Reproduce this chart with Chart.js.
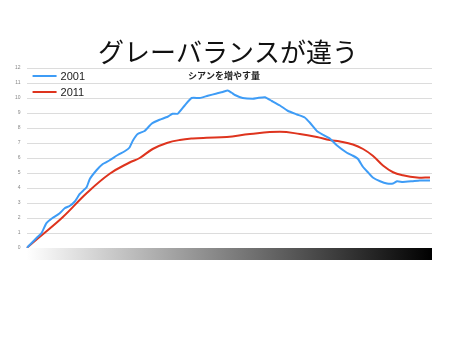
<!DOCTYPE html>
<html>
<head>
<meta charset="utf-8">
<script src="https://cdn.jsdelivr.net/npm/chart.js@4.4.1/dist/chart.umd.min.js"></script>
<style>
  html, body { margin: 0; padding: 0; background: #fff; }
  #wrap { width: 461px; height: 346px; }
</style>
</head>
<body>
<div id="wrap"><canvas id="grayChart" width="461" height="346"></canvas></div>
<script>
// シアン量 (%) に対する値
var cyan2001 = [0, 1.5, 2.7, 3.7, 4.9, 6.4, 8.1, 9.4, 10.6, 11.9, 13.1, 14.8, 15.6, 17.3, 18.8, 20.5, 22.5, 24.2, 25.4, 26.2,
                27.4, 29.1, 30.9, 32.8, 34.8, 36.0, 37.3, 39.0, 40.7, 42.7, 44.7, 46.9, 48.4, 49.6, 50.6, 51.4, 53.3, 55.8,
                57.0, 58.8, 60.5, 62.5, 64.4, 66.7, 68.6, 69.9, 71.6, 73.1, 74.8, 76.5, 79.0, 80.5, 81.7, 83.0, 84.2, 85.4,
                87.2, 88.9, 90.4, 91.4, 92.8, 95.1, 97.0, 99.5];
var values2001 = [0, 0.4, 0.73, 1.0, 1.66, 2.0, 2.3, 2.65, 2.8, 3.1, 3.6, 4.05, 4.6, 5.2, 5.6, 5.85, 6.2, 6.45, 6.7, 7.15,
                  7.6, 7.8, 8.3, 8.55, 8.75, 8.95, 8.95, 9.5, 10.0, 10.0, 10.15, 10.3, 10.4, 10.5, 10.35, 10.2, 10.0, 9.95,
                  10.0, 10.05, 9.8, 9.5, 9.15, 8.9, 8.7, 8.35, 7.8, 7.55, 7.3, 6.85, 6.35, 6.15, 5.95, 5.4, 5.05, 4.7,
                  4.45, 4.3, 4.3, 4.45, 4.4, 4.45, 4.5, 4.5];

var cyan2011 = [0, 3.2, 8.9, 14.8, 20.5, 25.4, 27.9, 31.1, 34.6, 37.8, 41.0, 44.4, 49.4, 55.1, 62.5, 67.4, 71.6,
                74.8, 77.3, 80.5, 83.0, 85.4, 87.9, 90.4, 92.8, 96.3, 99.5];
var values2011 = [0, 0.73, 2.05, 3.65, 4.95, 5.7, 6.0, 6.6, 7.0, 7.2, 7.3, 7.35, 7.4, 7.6, 7.75, 7.6, 7.4,
                  7.2, 7.1, 6.9, 6.6, 6.15, 5.5, 5.05, 4.85, 4.7, 4.7];

var yTicks = [0, 1, 2, 3, 4, 5, 6, 7, 8, 9, 10, 11, 12];

function toPoints(xs, ys) {
    return xs.map(function(x, i){ return { x: x, y: ys[i] }; });
}

// 横軸の下に白→黒のグラデーション帯
var grayBar = {
    id: 'grayBar',
    afterDraw: function(chart){
        var a = chart.chartArea, c = chart.ctx;
        var g = c.createLinearGradient(a.left, 0, a.right, 0);
        g.addColorStop(0, '#ffffff');
        g.addColorStop(1, '#000000');
        c.save();
        c.fillStyle = g;
        c.fillRect(a.left, a.bottom, a.right - a.left, 12);
        c.restore();
    }
};

// 見出し・凡例・サブタイトル
var insideText = {
    id: 'insideText',
    afterDraw: function(chart){
        var a = chart.chartArea, c = chart.ctx;
        c.save();
        c.fillStyle = '#111';
        c.font = '26px "Noto Sans CJK JP", sans-serif';
        c.textAlign = 'center';
        c.textBaseline = 'middle';
        c.fillText('グレーバランスが違う', 228, 52);

        chart.data.datasets.forEach(function(ds, i){
            var y = a.top + 8 + i * 16;
            c.strokeStyle = ds.borderColor;
            c.lineWidth = 2;
            c.beginPath();
            c.moveTo(a.left + 6, y);
            c.lineTo(a.left + 30, y);
            c.stroke();
            c.fillStyle = '#222';
            c.font = '11px "Liberation Sans", Arial, sans-serif';
            c.textBaseline = 'middle';
            c.textAlign = 'left';
            c.fillText(ds.label, a.left + 34, y + 0.5);
        });
        c.fillStyle = '#222';
        c.font = 'bold 9px "Noto Sans CJK JP", sans-serif';
        c.textAlign = 'center';
        c.textBaseline = 'middle';
        c.fillText('シアンを増やす量', 224, a.top + 8);
        c.restore();
    }
};

var ctx = document.getElementById('grayChart').getContext('2d');
var chart = new Chart(ctx, {
    type: 'line',
    data: {
        datasets: [
            { label: '2001', data: toPoints(cyan2001, values2001), borderColor: 'rgb(62,156,246)', borderWidth: 2, pointRadius: 0, tension: 0.15 },
            { label: '2011', data: toPoints(cyan2011, values2011), borderColor: 'rgb(222,52,30)', borderWidth: 2, pointRadius: 0, tension: 0.4 }
        ]
    },
    options: {
        responsive: false,
        animation: false,
        layout: { padding: { left: 9, right: 29, top: 68, bottom: 98 } },
        plugins: {
            legend: { display: false },
            tooltip: { enabled: false },
            title: { display: false }
        },
        scales: {
            x: { type: 'linear', min: 0, max: 100, display: false },
            y: {
                min: 0, max: 12,
                afterBuildTicks: function(axis){ axis.ticks = yTicks.map(function(v){ return { value: v }; }); },
                grid: { color: '#dcdcdc', drawTicks: false },
                border: { display: false },
                ticks: { color: '#888', font: { size: 5 }, padding: 6 }
            }
        }
    },
    plugins: [grayBar, insideText]
});
</script>
</body>
</html>
